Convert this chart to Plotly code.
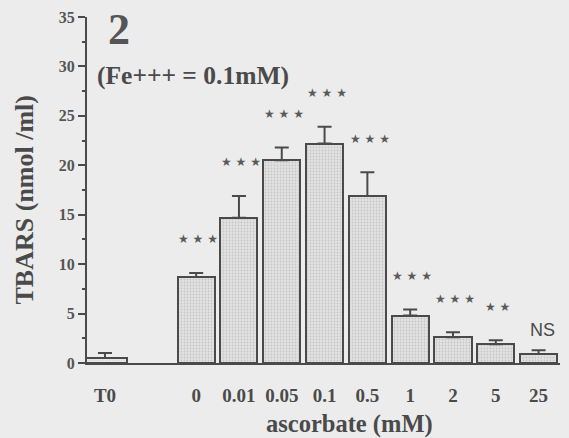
import plotly.graph_objects as go

# ---- data ----
categories = ["T0", "0", "0.01", "0.05", "0.1", "0.5", "1", "2", "5", "25"]
tbars = [0.5, 8.7, 14.7, 20.5, 22.2, 16.9, 4.8, 2.6, 1.9, 0.9]
sem = [0.5, 0.4, 2.2, 1.3, 1.7, 2.4, 0.6, 0.5, 0.4, 0.4]
significance = ["", "***", "***", "***", "***", "***", "***", "***", "**", "NS"]
y_ticks = [0, 5, 10, 15, 20, 25, 30, 35]

# ---- layout constants ----
GAP = 2.13          # distance (in bar slots) between the T0 bar and the "0" bar
pos = [-GAP] + list(range(len(categories) - 1))
INK = "#4a4a4a"
BG = "#ececec"
SERIF = "Liberation Serif"

fig = go.Figure()

# T0 bar (slightly wider, lighter)
fig.add_trace(go.Bar(
    x=pos[:1], y=tbars[:1], width=1.05,
    marker=dict(color="#e6e6e6", line=dict(color=INK, width=2),
                pattern=dict(shape=".", fgcolor="#c4c4c4", bgcolor="#e8e8e8", size=3, solidity=0.2)),
    error_y=dict(type="data", symmetric=False, array=sem[:1], arrayminus=[0],
                 color=INK, thickness=2, width=7),
    showlegend=False, hoverinfo="skip",
))

fig.add_trace(go.Bar(
    x=pos[1:], y=tbars[1:], width=0.865,
    marker=dict(color="#dedede", line=dict(color=INK, width=2),
                pattern=dict(shape=".", fgcolor="#a8a8a8", bgcolor="#e2e2e2", size=3, solidity=0.28)),
    error_y=dict(type="data", symmetric=False, array=sem[1:], arrayminus=[0] * (len(sem) - 1),
                 color=INK, thickness=2, width=7),
    showlegend=False, hoverinfo="skip",
))

# significance marks above the bars
for p, v, e, s in zip(pos, tbars, sem, significance):
    if not s:
        continue
    if s == "NS":
        fig.add_annotation(x=p + 0.1, y=v + e + 2.0, text="NS", showarrow=False,
                           font=dict(family="Liberation Sans", size=18, color=INK),
                           xanchor="center", yanchor="middle")
    else:
        txt = " ".join(["★"] * len(s))
        fig.add_annotation(x=p + 0.05, y=v + e + 3.4, text=txt, showarrow=False,
                           font=dict(family="DejaVu Sans", size=12, color="#5a5a5a"),
                           xanchor="center", yanchor="middle")

# panel number and condition
fig.add_annotation(xref="paper", yref="paper", x=0.04, y=1.04, text="<b>2</b>",
                   showarrow=False, xanchor="left", yanchor="top",
                   font=dict(family=SERIF, size=44, color="#555555"))
fig.add_annotation(xref="paper", yref="paper", x=0.016, y=0.831, text="<b>(Fe+++ = 0.1mM)</b>",
                   showarrow=False, xanchor="left", yanchor="middle",
                   font=dict(family=SERIF, size=25.5, color=INK))

# axis titles
fig.add_annotation(xref="paper", yref="paper", x=0.556, y=-0.175, text="<b>ascorbate (mM)</b>",
                   showarrow=False, xanchor="center", yanchor="middle",
                   font=dict(family=SERIF, size=24.5, color=INK))
fig.add_annotation(xref="paper", yref="paper", x=-0.133, y=0.47, text="<b>TBARS (nmol /ml)</b>",
                   showarrow=False, xanchor="center", yanchor="middle", textangle=-90,
                   font=dict(family=SERIF, size=26, color=INK))

fig.update_layout(
    width=569, height=438,
    margin=dict(l=87, r=9, t=14, b=75),
    paper_bgcolor=BG, plot_bgcolor=BG,
    bargap=0,
    font=dict(family=SERIF, color=INK),
    xaxis=dict(
        range=[-2.55, 8.5],
        tickvals=pos, ticktext=["<b>%s</b>" % c for c in categories],
        tickfont=dict(family=SERIF, size=19, color=INK),
        ticks="", ticklabelstandoff=14,
        showline=True, linecolor=INK, linewidth=2,
        showgrid=False, zeroline=False,
    ),
    yaxis=dict(
        range=[0, 35],
        tickvals=y_ticks, ticktext=["<b>%d</b>" % t for t in y_ticks],
        tickfont=dict(family=SERIF, size=16, color="#555555"),
        ticks="outside", ticklen=7, tickwidth=2, tickcolor=INK,
        minor=dict(dtick=2.5, ticks="outside", ticklen=3, tickwidth=1.5, tickcolor=INK),
        showline=True, linecolor=INK, linewidth=2,
        showgrid=False, zeroline=False,
    ),
)

fig.write_html(
    "out.html",
    config={"displayModeBar": False},
    post_script="document.body.style.margin='0px';document.body.style.background='#ececec';",
)
